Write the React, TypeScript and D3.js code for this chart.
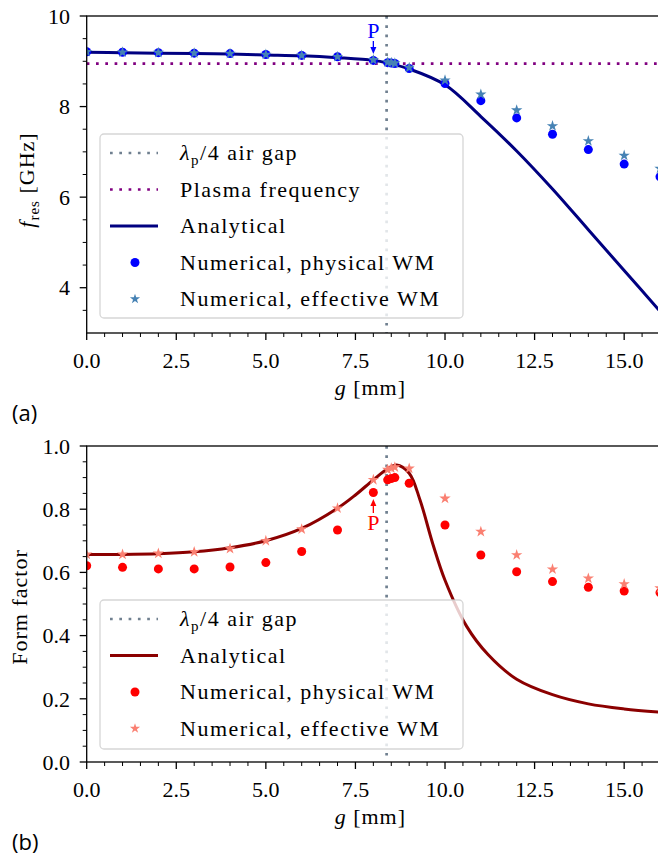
import React, { useEffect, useRef } from 'react';
import * as d3 from 'd3';

// sampled gap values of the numerical runs [mm]
const gNum = [0, 1, 2, 3, 4, 5, 6, 7, 8, 8.4, 8.5, 8.6, 9, 10, 11, 12, 13, 14, 15, 16];

// (a) resonance frequency [GHz]
const fPhys = [9.21, 9.2, 9.19, 9.18, 9.17, 9.15, 9.13, 9.1, 9.02, 8.97, 8.96, 8.95, 8.84, 8.51, 8.13, 7.75, 7.39, 7.05, 6.73, 6.45];
const fEff = [9.21, 9.2, 9.19, 9.18, 9.17, 9.15, 9.13, 9.1, 9.03, 8.98, 8.97, 8.96, 8.86, 8.58, 8.27, 7.92, 7.57, 7.24, 6.92, 6.63];
const gFreqAna = [0, 1, 2, 3, 4, 5, 6, 7, 8, 8.4, 9, 10, 11, 12, 13, 14, 15, 16];
const fAna = [9.2, 9.19, 9.18, 9.17, 9.16, 9.14, 9.12, 9.08, 9.02, 8.96, 8.83, 8.48, 7.78, 7.02, 6.18, 5.28, 4.38, 3.48];
const plasmaFreq = 8.95;
const quarterGap = 8.37;

// (b) form factor
const formPhys = [0.621, 0.616, 0.611, 0.611, 0.617, 0.631, 0.666, 0.734, 0.853, 0.893, 0.897, 0.9, 0.882, 0.75, 0.655, 0.602, 0.571, 0.553, 0.541, 0.536];
const formEff = [0.657, 0.657, 0.66, 0.665, 0.675, 0.7, 0.737, 0.803, 0.893, 0.925, 0.93, 0.933, 0.929, 0.834, 0.729, 0.655, 0.61, 0.581, 0.563, 0.55];
const gFormAna = [0, 1, 2, 3, 4, 5, 6, 7, 7.5, 8, 8.4, 8.65, 9, 9.3, 9.66, 10, 10.6, 11.2, 12, 13, 14, 15, 16];
const formAna = [0.657, 0.657, 0.659, 0.665, 0.678, 0.7, 0.739, 0.803, 0.845, 0.893, 0.928, 0.94, 0.914, 0.83, 0.69, 0.575, 0.43, 0.34, 0.262, 0.213, 0.184, 0.168, 0.158];

const xTicks = [0, 2.5, 5, 7.5, 10, 12.5, 15];
const freqTicks = [4, 6, 8, 10];
const formTicks = [0, 0.2, 0.4, 0.6, 0.8, 1.0];

const W = 658;
const H = 858;
const serif = "'Liberation Serif', 'Times New Roman', 'DejaVu Serif', serif";
const sans = "'Open Sans', 'Noto Sans', sans-serif";
const FS = 22;
const starSize = 40;

const dotted = { width: 2.7, dash: '2.7 6.6' };

const txt = (sel, family = serif) => sel.style('font-family', family).style('font-size', FS + 'px');

function drawAxes(g, x, y, yTicks, yMinor, yFmt, top, bottom) {
  const left = x.range()[0], right = x.range()[1];
  const xMinor = d3.range(0, 16.001, 0.5).filter(v => !xTicks.includes(v));
  xMinor.forEach(v => g.append('line').attr('x1', x(v)).attr('x2', x(v)).attr('y1', bottom).attr('y2', bottom + 4).attr('stroke', '#000').attr('stroke-width', 1));
  xTicks.forEach(v => {
    g.append('line').attr('x1', x(v)).attr('x2', x(v)).attr('y1', bottom).attr('y2', bottom + 7).attr('stroke', '#000').attr('stroke-width', 1.3);
    txt(g.append('text').attr('x', x(v)).attr('y', bottom + 35).attr('text-anchor', 'middle')).text(d3.format('.1f')(v));
  });
  yMinor.forEach(v => g.append('line').attr('x1', left - 4).attr('x2', left).attr('y1', y(v)).attr('y2', y(v)).attr('stroke', '#000').attr('stroke-width', 1));
  yTicks.forEach(v => {
    g.append('line').attr('x1', left - 7).attr('x2', left).attr('y1', y(v)).attr('y2', y(v)).attr('stroke', '#000').attr('stroke-width', 1.3);
    txt(g.append('text').attr('x', 70).attr('y', y(v)).attr('dy', '0.35em').attr('text-anchor', 'end')).text(yFmt(v));
  });
  // spines
  g.append('rect').attr('x', left).attr('y', top).attr('width', right - left).attr('height', bottom - top)
    .attr('fill', 'none').attr('stroke', '#000').attr('stroke-width', 1.3);
  const xl = txt(g.append('text').attr('x', (left + right) / 2 - 3).attr('y', bottom + 62).attr('text-anchor', 'middle'))
    .style('letter-spacing', '1px');
  xl.append('tspan').attr('font-style', 'italic').text('g');
  xl.append('tspan').text(' [mm]');
}

function drawLegend(g, box, items) {
  g.append('rect').attr('x', box.x).attr('y', box.y).attr('width', box.w).attr('height', box.h).attr('rx', 4)
    .attr('fill', 'rgba(255,255,255,0.8)').attr('stroke', 'rgba(204,204,204,0.8)').attr('stroke-width', 1.3);
  items.forEach((it, i) => {
    const cy = box.y + 19 + i * 36.5;
    if (it.kind === 'dotted') {
      g.append('line').attr('x1', 110).attr('x2', 158).attr('y1', cy).attr('y2', cy).attr('stroke', it.color)
        .attr('stroke-width', dotted.width).attr('stroke-dasharray', dotted.dash);
    } else if (it.kind === 'line') {
      g.append('line').attr('x1', 110).attr('x2', 158).attr('y1', cy).attr('y2', cy).attr('stroke', it.color).attr('stroke-width', 3);
    } else if (it.kind === 'circle') {
      g.append('circle').attr('cx', 135).attr('cy', cy).attr('r', 4.5).attr('fill', it.color);
    } else {
      g.append('path').attr('d', d3.symbol().type(d3.symbolStar).size(starSize * 0.8)()).attr('transform', `translate(135,${cy})`).attr('fill', it.color);
    }
    const t = txt(g.append('text').attr('x', 180).attr('y', cy).attr('dy', '0.32em')).style('letter-spacing', '1.5px');
    it.label(t);
  });
}

const lambdaLabel = t => {
  t.append('tspan').attr('font-style', 'italic').text('λ');
  t.append('tspan').style('font-size', '15px').attr('dy', 5).text('p');
  t.append('tspan').attr('dy', -5).text('/4 air gap');
};
const plain = s => t => t.text(s);

function App() {
  const ref = useRef(null);

  useEffect(() => {
    const svg = d3.select(ref.current);
    svg.selectAll('*').remove();
    const x = d3.scaleLinear().domain([0, 16]).range([86.7, 660]);

    // ---------- (a) ----------
    const topA = 16, botA = 333;
    const yA = d3.scaleLinear().domain([3, 10]).range([botA, topA]);
    const gA = svg.append('g');
    svg.append('clipPath').attr('id', 'clipA').append('rect').attr('x', x(0)).attr('y', topA).attr('width', x(16) - x(0)).attr('height', botA - topA);
    const pA = gA.append('g').attr('clip-path', 'url(#clipA)');
    pA.append('line').attr('x1', x(quarterGap)).attr('x2', x(quarterGap)).attr('y1', topA).attr('y2', botA)
      .attr('stroke', '#708090').attr('stroke-width', dotted.width).attr('stroke-dasharray', dotted.dash);
    pA.append('line').attr('x1', x(0)).attr('x2', x(16)).attr('y1', yA(plasmaFreq)).attr('y2', yA(plasmaFreq))
      .attr('stroke', '#800080').attr('stroke-width', dotted.width).attr('stroke-dasharray', dotted.dash);
    const lineA = d3.line().x(d => x(d[0])).y(d => yA(d[1])).curve(d3.curveCatmullRom.alpha(0.5));
    pA.append('path').attr('d', lineA(d3.zip(gFreqAna, fAna))).attr('fill', 'none').attr('stroke', '#000080').attr('stroke-width', 3);
    pA.selectAll('.pc').data(d3.zip(gNum, fPhys)).join('circle').attr('cx', d => x(d[0])).attr('cy', d => yA(d[1])).attr('r', 4.5).attr('fill', '#0000ff');
    pA.selectAll('.ps').data(d3.zip(gNum, fEff)).join('path').attr('d', d3.symbol().type(d3.symbolStar).size(starSize)())
      .attr('transform', d => `translate(${x(d[0])},${yA(d[1])})`).attr('fill', '#4682b4');
    drawAxes(gA, x, yA, freqTicks, d3.range(3.5, 10, 0.5).filter(v => !freqTicks.includes(v)), d3.format('d'), topA, botA);

    const ylA = txt(gA.append('text').attr('transform', `translate(34,180) rotate(-90)`).attr('text-anchor', 'middle'))
      .style('letter-spacing', '1px');
    ylA.append('tspan').attr('font-style', 'italic').text('f');
    ylA.append('tspan').style('font-size', '15px').attr('dy', 5).text('res');
    ylA.append('tspan').attr('dy', -5).text(' [GHz]');

    const pxA = x(8);
    txt(gA.append('text').attr('x', pxA).attr('y', 38).attr('text-anchor', 'middle')).attr('fill', '#0000ff').text('P');
    gA.append('line').attr('x1', pxA).attr('x2', pxA).attr('y1', 41).attr('y2', 48).attr('stroke', '#0000ff').attr('stroke-width', 1.3);
    gA.append('path').attr('d', `M${pxA - 3},47 L${pxA + 3},47 L${pxA},54 Z`).attr('fill', '#0000ff');

    drawLegend(gA, { x: 100, y: 134, w: 363, h: 184 }, [
      { kind: 'dotted', color: '#708090', label: lambdaLabel },
      { kind: 'dotted', color: '#800080', label: plain('Plasma frequency') },
      { kind: 'line', color: '#000080', label: plain('Analytical') },
      { kind: 'circle', color: '#0000ff', label: plain('Numerical,  physical WM') },
      { kind: 'star', color: '#4682b4', label: plain('Numerical,  effective WM') },
    ]);
    txt(gA.append('text').attr('x', 12).attr('y', 421), sans).text('(a)');

    // ---------- (b) ----------
    const topB = 446, botB = 762;
    const yB = d3.scaleLinear().domain([0, 1]).range([botB, topB]);
    const gB = svg.append('g');
    svg.append('clipPath').attr('id', 'clipB').append('rect').attr('x', x(0)).attr('y', topB).attr('width', x(16) - x(0)).attr('height', botB - topB);
    const pB = gB.append('g').attr('clip-path', 'url(#clipB)');
    pB.append('line').attr('x1', x(quarterGap)).attr('x2', x(quarterGap)).attr('y1', topB).attr('y2', botB)
      .attr('stroke', '#708090').attr('stroke-width', dotted.width).attr('stroke-dasharray', dotted.dash);
    const lineB = d3.line().x(d => x(d[0])).y(d => yB(d[1])).curve(d3.curveCatmullRom.alpha(0.5));
    pB.append('path').attr('d', lineB(d3.zip(gFormAna, formAna))).attr('fill', 'none').attr('stroke', '#8b0000').attr('stroke-width', 3);
    pB.selectAll('.pc').data(d3.zip(gNum, formPhys)).join('circle').attr('cx', d => x(d[0])).attr('cy', d => yB(d[1])).attr('r', 4.5).attr('fill', '#ff0000');
    pB.selectAll('.ps').data(d3.zip(gNum, formEff)).join('path').attr('d', d3.symbol().type(d3.symbolStar).size(starSize)())
      .attr('transform', d => `translate(${x(d[0])},${yB(d[1])})`).attr('fill', '#fa8072');
    drawAxes(gB, x, yB, formTicks, d3.range(0.05, 1, 0.05).map(v => +v.toFixed(2)).filter(v => !formTicks.includes(v)), d3.format('.1f'), topB, botB);

    txt(gB.append('text').attr('transform', `translate(27,607) rotate(-90)`).attr('text-anchor', 'middle'))
      .style('letter-spacing', '1px').text('Form factor');

    const pxB = x(8);
    txt(gB.append('text').attr('x', pxB).attr('y', 530).attr('text-anchor', 'middle')).attr('fill', '#ff0000').text('P');
    gB.append('line').attr('x1', pxB).attr('x2', pxB).attr('y1', 513).attr('y2', 505).attr('stroke', '#ff0000').attr('stroke-width', 1.3);
    gB.append('path').attr('d', `M${pxB - 3},506 L${pxB + 3},506 L${pxB},499 Z`).attr('fill', '#ff0000');

    drawLegend(gB, { x: 100, y: 600, w: 363, h: 149 }, [
      { kind: 'dotted', color: '#708090', label: lambdaLabel },
      { kind: 'line', color: '#8b0000', label: plain('Analytical') },
      { kind: 'circle', color: '#ff0000', label: plain('Numerical,  physical WM') },
      { kind: 'star', color: '#fa8072', label: plain('Numerical,  effective WM') },
    ]);
    txt(gB.append('text').attr('x', 12).attr('y', 850), sans).text('(b)');
  }, []);

  return (
    <svg ref={ref} width={W} height={H} style={{ position: 'absolute', left: 0, top: 0, background: '#fff' }} />
  );
}

export default App;
